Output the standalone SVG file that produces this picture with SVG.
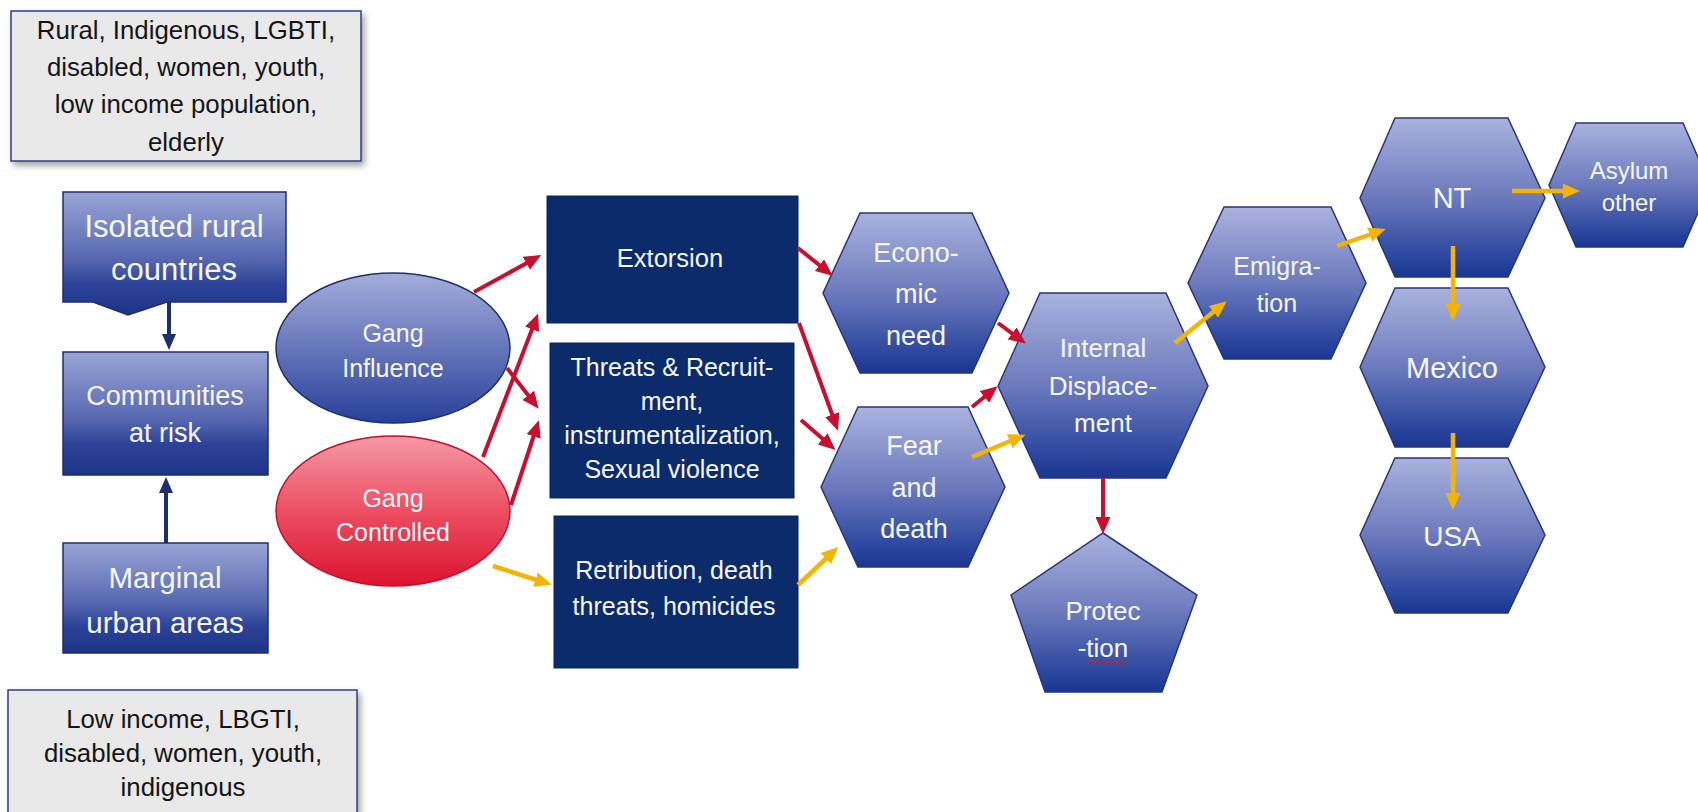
<svg xmlns="http://www.w3.org/2000/svg" width="1698" height="812" viewBox="0 0 1698 812">
<defs>
<linearGradient id="hexg" x1="0" y1="0" x2="0" y2="1">
<stop offset="0" stop-color="#aab2dd"/>
<stop offset="0.5" stop-color="#6c7abd"/>
<stop offset="0.85" stop-color="#2f4aa0"/>
<stop offset="1" stop-color="#1b3690"/>
</linearGradient>
<linearGradient id="boxg" x1="0" y1="0" x2="0" y2="1">
<stop offset="0" stop-color="#9aa5d6"/>
<stop offset="0.55" stop-color="#5667b0"/>
<stop offset="0.75" stop-color="#2c4398"/>
<stop offset="1" stop-color="#1c3388"/>
</linearGradient>
<linearGradient id="blueEll" x1="0" y1="0" x2="0" y2="1">
<stop offset="0" stop-color="#a4aedc"/>
<stop offset="0.5" stop-color="#6676ba"/>
<stop offset="1" stop-color="#28409a"/>
</linearGradient>
<linearGradient id="redEll" x1="0" y1="0" x2="0" y2="1">
<stop offset="0" stop-color="#f59aa6"/>
<stop offset="0.5" stop-color="#ec4e62"/>
<stop offset="1" stop-color="#dc1430"/>
</linearGradient>
<filter id="shadow" x="-10%" y="-10%" width="130%" height="140%">
<feDropShadow dx="3" dy="4" stdDeviation="3" flood-color="#000" flood-opacity="0.35"/>
</filter>
<marker id="arR" markerUnits="userSpaceOnUse" markerWidth="17" markerHeight="15" refX="11" refY="7.5" orient="auto">
<path d="M0,0 L17,7.5 L0,15 z" fill="#c8102e"/>
</marker>
<marker id="arY" markerUnits="userSpaceOnUse" markerWidth="17" markerHeight="15" refX="11" refY="7.5" orient="auto">
<path d="M0,0 L17,7.5 L0,15 z" fill="#f4b400"/>
</marker>
<marker id="arN" markerUnits="userSpaceOnUse" markerWidth="16" markerHeight="14" refX="11" refY="7" orient="auto">
<path d="M0,0 L16,7 L0,14 z" fill="#1e2f6e"/>
</marker>
</defs>
<style>
text{font-family:"Liberation Sans",Arial,sans-serif;text-anchor:middle}
.w{fill:#f7f7fb}
.k{fill:#151515;font-size:25.8px}
.hex{fill:url(#hexg);stroke:#26367a;stroke-width:1.5}
.lbox{fill:url(#boxg);stroke:#1e2f6e;stroke-width:1.5}
.dbox{fill:#0b2b6b;stroke:#0a2460;stroke-width:1}
.gbox{fill:#e9e9e9;stroke:#2c3c8c;stroke-width:1.5;filter:url(#shadow)}
.r{stroke:#c8102e;stroke-width:4;fill:none;marker-end:url(#arR)}
.y{stroke:#f4b400;stroke-width:4.5;fill:none;marker-end:url(#arY)}
.n{stroke:#1e2f6e;stroke-width:4;fill:none;marker-end:url(#arN)}
</style>
<rect width="1698" height="812" fill="#ffffff"/>

<g id="note-top">
<rect class="gbox" x="11" y="11" width="350" height="150"/>
<text class="k" x="186" y="39">Rural, Indigenous, LGBTI,</text>
<text class="k" x="186" y="76">disabled, women, youth,</text>
<text class="k" x="186" y="113">low income population,</text>
<text class="k" x="186" y="151">elderly</text>
</g>

<g id="note-bottom">
<rect class="gbox" x="8" y="690" width="349" height="140"/>
<text class="k" x="183" y="728">Low income, LBGTI,</text>
<text class="k" x="183" y="762">disabled, women, youth,</text>
<text class="k" x="183" y="796">indigenous</text>
</g>

<g id="isolated">
<path class="lbox" d="M63,192 H286 V302 H167 L128,315 L93,302 H63 Z"/>
<text class="w" x="174" y="237" font-size="31">Isolated rural</text>
<text class="w" x="174" y="280" font-size="31">countries</text>
</g>

<g id="communities">
<rect class="lbox" x="63" y="352" width="205" height="123"/>
<text class="w" x="165" y="405" font-size="27">Communities</text>
<text class="w" x="165" y="442" font-size="27">at risk</text>
</g>

<g id="marginal">
<rect class="lbox" x="63" y="543" width="205" height="110"/>
<text class="w" x="165" y="588" font-size="29.5">Marginal</text>
<text class="w" x="165" y="633" font-size="29.5">urban areas</text>
</g>

<g id="gang-influence">
<ellipse cx="393" cy="348" rx="117" ry="75" fill="url(#blueEll)" stroke="#1e2f6e" stroke-width="1.5"/>
<text class="w" x="393" y="342" font-size="25">Gang</text>
<text class="w" x="393" y="377" font-size="25">Influence</text>
</g>

<g id="gang-controlled">
<ellipse cx="393" cy="511" rx="117" ry="75" fill="url(#redEll)" stroke="#c4102c" stroke-width="1.5"/>
<text class="w" x="393" y="507" font-size="25">Gang</text>
<text class="w" x="393" y="541" font-size="25">Controlled</text>
</g>

<g id="extorsion">
<rect class="dbox" x="547" y="196" width="251" height="127"/>
<text class="w" x="670" y="267" font-size="25.5">Extorsion</text>
</g>

<g id="threats">
<rect class="dbox" x="550" y="343" width="244" height="155"/>
<text class="w" x="672" y="376" font-size="25">Threats &amp; Recruit-</text>
<text class="w" x="672" y="410" font-size="25">ment,</text>
<text class="w" x="672" y="444" font-size="25">instrumentalization,</text>
<text class="w" x="672" y="478" font-size="25">Sexual violence</text>
</g>

<g id="retribution">
<rect class="dbox" x="554" y="516" width="244" height="152"/>
<text class="w" x="674" y="579" font-size="25">Retribution, death</text>
<text class="w" x="674" y="615" font-size="25">threats, homicides</text>
</g>

<g id="economic-need">
<polygon class="hex" points="823,293 860,213 972,213 1009,293 972,373 860,373"/>
<text class="w" x="916" y="262" font-size="27">Econo-</text>
<text class="w" x="916" y="303" font-size="27">mic</text>
<text class="w" x="916" y="345" font-size="27">need</text>
</g>

<g id="fear-death">
<polygon class="hex" points="821,487 858,407 968,407 1005,487 968,567 858,567"/>
<text class="w" x="914" y="455" font-size="27">Fear</text>
<text class="w" x="914" y="497" font-size="27">and</text>
<text class="w" x="914" y="538" font-size="27">death</text>
</g>

<g id="internal-displacement">
<polygon class="hex" points="998,386 1040,293 1166,293 1208,386 1166,478 1040,478"/>
<text class="w" x="1103" y="357" font-size="26">Internal</text>
<text class="w" x="1103" y="395" font-size="26">Displace-</text>
<text class="w" x="1103" y="432" font-size="26">ment</text>
</g>

<g id="protection">
<polygon class="hex" points="1103,533 1197,595 1162,692 1045,692 1011,595"/>
<text class="w" x="1103" y="620" font-size="26">Protec</text>
<text class="w" x="1103" y="657" font-size="26">-tion</text>
<path d="M1088,663 l3,-2 l3,2 l3,-2 l3,2 l3,-2 l3,2 l3,-2 l3,2 l3,-2 l3,2 l3,-2 l3,2 l3,-2" fill="none" stroke="#d0202a" stroke-width="1.2"/>
</g>

<g id="emigration">
<polygon class="hex" points="1188,283 1224,207 1331,207 1366,283 1331,359 1224,359"/>
<text class="w" x="1277" y="275" font-size="25">Emigra-</text>
<text class="w" x="1277" y="312" font-size="25">tion</text>
</g>

<g id="nt">
<polygon class="hex" points="1360,198 1395,118 1508,118 1545,198 1508,277 1395,277"/>
<text class="w" x="1452" y="208" font-size="29">NT</text>
</g>

<g id="asylum-other">
<polygon class="hex" points="1549,185 1576,123 1683,123 1710,185 1683,247 1576,247"/>
<text class="w" x="1629" y="179" font-size="24">Asylum</text>
<text class="w" x="1629" y="211" font-size="24">other</text>
</g>

<g id="mexico">
<polygon class="hex" points="1360,367 1395,288 1508,288 1545,367 1508,447 1395,447"/>
<text class="w" x="1452" y="378" font-size="29">Mexico</text>
</g>

<g id="usa">
<polygon class="hex" points="1360,535 1395,458 1508,458 1545,535 1508,613 1395,613"/>
<text class="w" x="1452" y="546" font-size="28">USA</text>
</g>

<g id="connectors">
<line class="n" x1="169" y1="302" x2="169" y2="345"/>
<line class="n" x1="166" y1="543" x2="166" y2="482"/>
<line class="r" x1="474" y1="292" x2="536" y2="258"/>
<line class="r" x1="507" y1="368" x2="535" y2="404"/>
<line class="r" x1="483" y1="457" x2="536" y2="319"/>
<line class="r" x1="511" y1="505" x2="537" y2="426"/>
<line class="y" x1="493" y1="566" x2="546" y2="583"/>
<line class="r" x1="798" y1="248" x2="828" y2="272"/>
<line class="r" x1="799" y1="323" x2="836" y2="425"/>
<line class="r" x1="801" y1="420" x2="831" y2="446"/>
<line class="y" x1="798" y1="585" x2="834" y2="551"/>
<line class="r" x1="998" y1="323" x2="1021" y2="340"/>
<line class="r" x1="972" y1="407" x2="993" y2="390"/>
<line class="y" x1="972" y1="457" x2="1020" y2="437"/>
<line class="r" x1="1103" y1="478" x2="1103" y2="528"/>
<line class="y" x1="1175" y1="343" x2="1222" y2="305"/>
<line class="y" x1="1337" y1="246" x2="1380" y2="231"/>
<line class="y" x1="1512" y1="191" x2="1574" y2="191"/>
<line class="y" x1="1453" y1="246" x2="1453" y2="315"/>
<line class="y" x1="1453" y1="433" x2="1453" y2="504"/>
</g>
</svg>
